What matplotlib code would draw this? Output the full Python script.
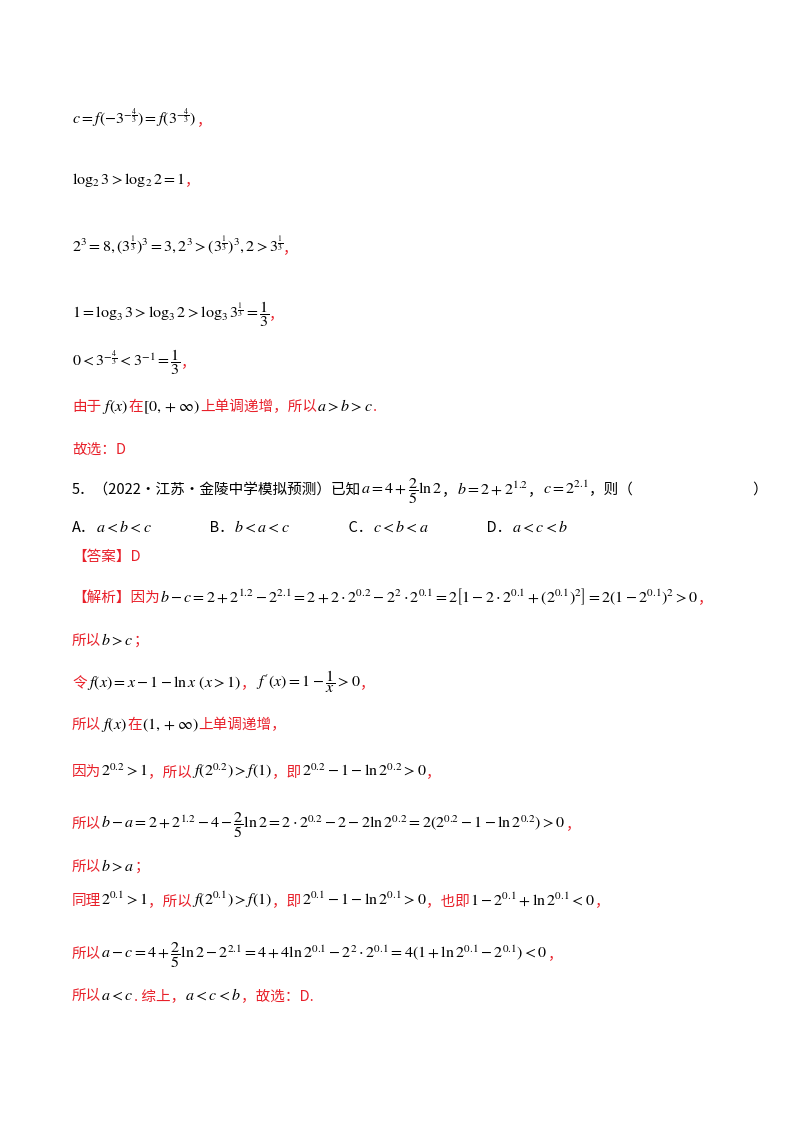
import matplotlib
matplotlib.use("Agg")
import matplotlib.pyplot as plt

plt.rcParams['mathtext.fontset'] = 'stix'
plt.rcParams['font.family'] = ['Noto Sans CJK SC', 'DejaVu Sans']

R = '#e8202a'
K = 'black'
line_y = [124, 184, 252, 318, 366, 411, 454, 494, 532, 561, 602, 645, 687, 729, 776, 828, 871, 905, 958, 1000]
line_segments = [
    [(r'$c=f\left(-3^{-\frac{4}{3}}\right)=f\left(3^{-\frac{4}{3}}\right)$', K), ('，', R)],
    [(r'$\log_2 3>\log_2 2=1$', K), ('，', R)],
    [(r'$2^3=8,\left(3^{\frac{1}{3}}\right)^3=3,2^3>\left(3^{\frac{1}{3}}\right)^3,2>3^{\frac{1}{3}}$', K), ('，', R)],
    [(r'$1=\log_3 3>\log_3 2>\log_3 3^{\frac{1}{3}}=\dfrac{1}{3}$', K), ('，', R)],
    [(r'$0<3^{-\frac{4}{3}}<3^{-1}=\dfrac{1}{3}$', K), ('，', R)],
    [('由于', R), (r'$\ f\left(x\right)\ $', K), ('在', R), (r'$\left[0,+\infty\right)$', K), ('上单调递增，所以', R), (r'$a>b>c$', K), ('.', R)],
    [('故选：D', R)],
    [('5．（2022·江苏·金陵中学模拟预测）已知', K), (r'$a=4+\dfrac{2}{5}\ln 2$', K), ('，', K), (r'$b=2+2^{1.2}$', K), ('，', K), (r'$c=2^{2.1}$', K), ('，则（                                     ）', K)],
    [('A．', K), (r'$a<b<c$', K), ('                  B．', K), (r'$b<a<c$', K), ('                  C．', K), (r'$c<b<a$', K), ('                  D．', K), (r'$a<c<b$', K)],
    [('【答案】D', R)],
    [('【解析】因为', R), (r'$b-c=2+2^{1.2}-2^{2.1}=2+2\cdot2^{0.2}-2^2\cdot2^{0.1}=2\left[1-2\cdot2^{0.1}+\left(2^{0.1}\right)^2\right]=2\left(1-2^{0.1}\right)^2>0$', K), ('，', R)],
    [('所以', R), (r'$b>c$', K), ('；', R)],
    [('令', R), (r'$f(x)=x-1-\ln x\ (x>1)$', K), ('，', R), (r'$f^{\prime}(x)=1-\dfrac{1}{x}>0$', K), ('，', R)],
    [('所以', R), (r'$f(x)$', K), ('在', R), (r'$(1,+\infty)$', K), ('上单调递增，', R)],
    [('因为', R), (r'$2^{0.2}>1$', K), ('，所以', R), (r'$f(2^{0.2})>f(1)$', K), ('，即', R), (r'$2^{0.2}-1-\ln 2^{0.2}>0$', K), ('，', R)],
    [('所以', R), (r'$b-a=2+2^{1.2}-4-\dfrac{2}{5}\ln 2=2\cdot2^{0.2}-2-2\ln 2^{0.2}=2\left(2^{0.2}-1-\ln 2^{0.2}\right)>0$', K), ('，', R)],
    [('所以', R), (r'$b>a$', K), ('；', R)],
    [('同理', R), (r'$2^{0.1}>1$', K), ('，所以', R), (r'$f(2^{0.1})>f(1)$', K), ('，即', R), (r'$2^{0.1}-1-\ln 2^{0.1}>0$', K), ('，也即', R), (r'$1-2^{0.1}+\ln 2^{0.1}<0$', K), ('，', R)],
    [('所以', R), (r'$a-c=4+\dfrac{2}{5}\ln 2-2^{2.1}=4+4\ln 2^{0.1}-2^2\cdot2^{0.1}=4\left(1+\ln 2^{0.1}-2^{0.1}\right)<0$', K), ('，', R)],
    [('所以', R), (r'$a<c$', K), ('. 综上，', R), (r'$a<c<b$', K), ('，故选：D.', R)],
]

W, H = 800, 1132
fig = plt.figure(figsize=(8, 11.32), dpi=100)
fig.patch.set_facecolor('white')
r = fig.canvas.get_renderer()
for y, segs in zip(line_y, line_segments):
    x = 72
    for txt, col in segs:
        fs = 11.5 if txt.startswith('$') else 10.5
        t = fig.text(x / W, 1 - y / H, txt, color=col, fontsize=fs, va='baseline', ha='left')
        x += t.get_window_extent(renderer=r).width
fig.savefig('out.png', dpi=100, facecolor='white')
